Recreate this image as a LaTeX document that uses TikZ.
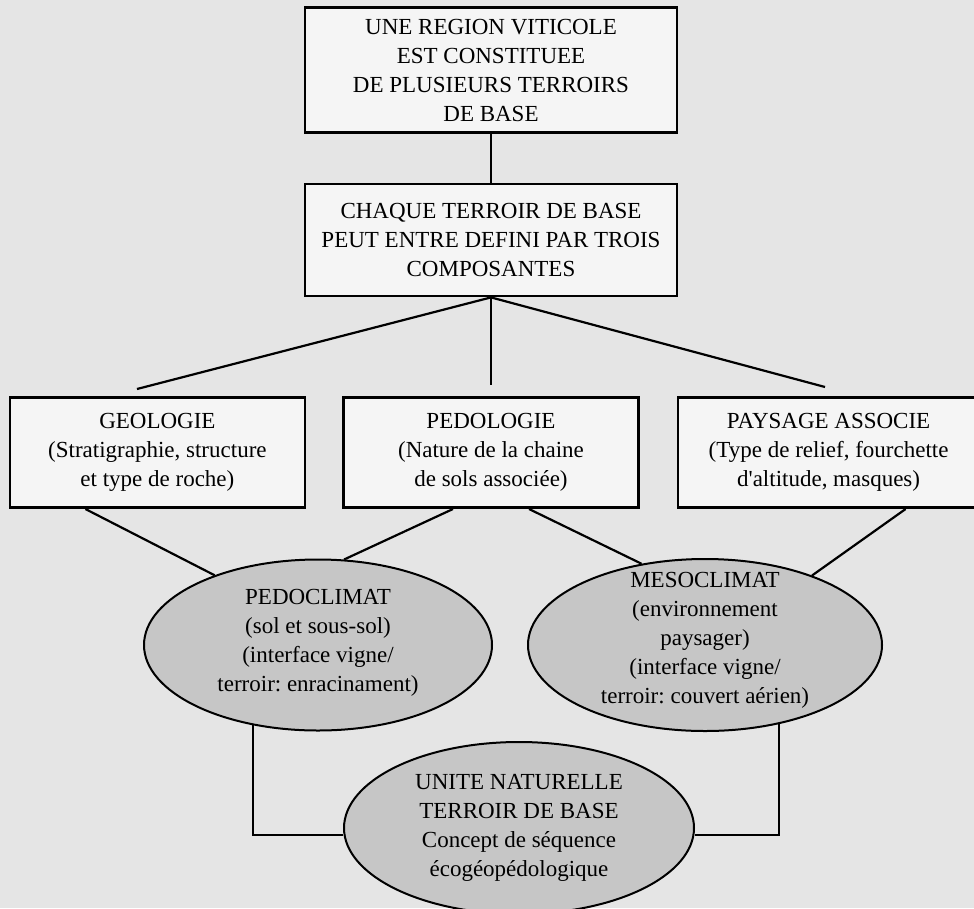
\documentclass[tikz,border=0pt]{standalone}
\usepackage{fontspec}
\setmainfont{Liberation Serif}
\usepackage{tikz}
\usetikzlibrary{shapes.geometric, positioning, calc}
\frenchspacing

\begin{document}
\begin{tikzpicture}[
    x=1pt, y=-1pt,
    box/.style={rectangle, draw=black, fill=gray!8, line width=2.6pt,
        minimum width=#1, minimum height=110pt, align=center, inner sep=2pt,
        font=\fontsize{23}{29}\selectfont},
    box/.default=295pt,
    oval/.style={ellipse, draw=black, fill=gray!45, line width=2pt,
        minimum width=350pt, minimum height=172pt, inner sep=0pt},
    ovaltext/.style={align=center, inner sep=0pt, font=\fontsize{23}{29}\selectfont},
    conn/.style={line width=2.2pt, color=black},
]

% page
\fill[gray!20] (0,0) rectangle (974,908);
\useasboundingbox (0,0) rectangle (974,908);

% Top: region and components
\node[box=372pt, minimum height=125pt] (region) at (491,70) {UNE REGION VITICOLE\\EST CONSTITUEE\\DE PLUSIEURS TERROIRS\\DE BASE};
\node[box=372pt, minimum height=112pt, below=49pt of region] (compo) {CHAQUE TERROIR DE BASE\\PEUT ENTRE DEFINI PAR TROIS\\COMPOSANTES};

\draw[conn] (region) -- (compo);

% Row of the three components
\node[box, below=99pt of compo] (pedol) {PEDOLOGIE\\(Nature de la chaine\\de sols associée)};
\node[box, left=36pt of pedol] (geol) {GEOLOGIE\\(Stratigraphie, structure\\et type de roche)};
\node[box=301pt, right=37pt of pedol] (pays) {PAYSAGE ASSOCIE\\(Type de relief, fourchette\\d\textquotesingle altitude, masques)};

\coordinate (geolin) at (137,389);
\coordinate (pedolin) at (491,385);
\coordinate (paysin) at (825,387);
\draw[conn] (compo.south) -- (geolin);
\draw[conn] (compo.south) -- (pedolin);
\draw[conn] (compo.south) -- (paysin);

% Climates
\node[oval, minimum width=348pt, minimum height=171pt] (pedoc) at (318,645) {};
\node[ovaltext] (pedoctxt) at (318,643) {PEDOCLIMAT\\(sol et sous-sol)\\(interface vigne/\\terroir: enracinament)};
\node[oval, minimum width=354pt] (mesoc) at (705,645) {};
\node[ovaltext] (mesoctxt) at (705,640) {MESOCLIMAT\\(environnement\\paysager)\\(interface vigne/\\terroir: couvert aérien)};

\draw[conn] ([xshift=-72pt]geol.south) -- (pedoc.146.6);
\draw[conn] ([xshift=-38pt]pedol.south) -- (pedoc.73.8);
\draw[conn] ([xshift=38pt]pedol.south) -- (mesoc.128);
\draw[conn] ([xshift=77pt]pays.south) -- (mesoc.33.7);

% Base unit
\node[oval] (unite) at (519,828) {};
\node[ovaltext] (unitetxt) at (519,828) {UNITE NATURELLE\\TERROIR DE BASE\\Concept de séquence\\écogéopédologique};

\draw[conn] (pedoc.-129.4) |- ([yshift=-7pt]unite.west);
\draw[conn] (mesoc.-47.5) |- ([yshift=-7pt]unite.east);

\end{tikzpicture}
\end{document}
